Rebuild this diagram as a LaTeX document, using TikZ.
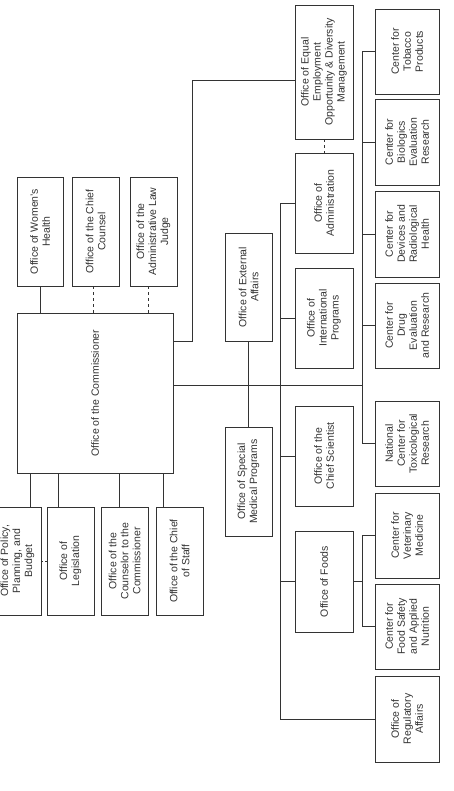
\documentclass[tikz,border=0pt]{standalone}
\usepackage{fontspec}
\setmainfont{Liberation Sans}
\usetikzlibrary{calc}
\tikzset{
  orgbox/.style={draw=black!80, line width=0.9pt, inner sep=0pt},
  lbl/.style={font=\fontsize{10.5}{12}\selectfont, align=center, text=black!80, inner sep=0pt},
  conn/.style={draw=black!80, line width=0.9pt},
  dashconn/.style={draw=black!80, line width=0.9pt, dash pattern=on 3pt off 3pt},
}
\newcommand\orgnode[6]{%
  \node[orgbox, minimum width={(#4)-(#2)}, minimum height={(#5)-(#3)}] (#1) at ({((#2)+(#4))/2},{((#3)+(#5))/2}) {};
  \node[lbl, rotate=90] (#1-t) at (#1.center) {#6};
}
\begin{document}
\begin{tikzpicture}[x=1pt,y=-1pt]
\useasboundingbox (0,0) rectangle (453,791);
\clip (0,0) rectangle (453,791);
% top row
\orgnode{wh}{17}{177}{63}{286}{Office of Women's\\Health}
\orgnode{cc}{72}{177}{119}{286}{Office of the Chief\\Counsel}
\orgnode{alj}{130}{177}{177}{286}{Office of the\\Administrative Law\\Judge}
% commissioner
\orgnode{com}{17}{313}{173}{473}{Office of the Commissioner}
% bottom row
\orgnode{pol}{-6}{507}{41}{615}{Office of Policy,\\Planning, and\\Budget}
\orgnode{leg}{47}{507}{94}{615}{Office of\\Legislation}
\orgnode{cou}{101}{507}{148}{615}{Office of the\\Counselor to the\\Commissioner}
\orgnode{cos}{156}{507}{203}{615}{Office of the Chief\\of Staff}
% middle column
\orgnode{ext}{225}{233}{272}{341}{Office of External\\Affairs}
\orgnode{smp}{225}{427}{272}{536}{Office of Special\\Medical Programs}
% offices column
\orgnode{eeo}{295}{5}{353}{139}{Office of Equal\\Employment\\Opportunity \& Diversity\\Management}
\orgnode{adm}{295}{153}{353}{253}{Office of\\Administration}
\orgnode{intl}{295}{268}{353}{368}{Office of\\International\\Programs}
\orgnode{csc}{295}{406}{353}{506}{Office of the\\Chief Scientist}
\orgnode{foods}{295}{531}{353}{632}{Office of Foods}
% centers column
\orgnode{tob}{375}{9}{439}{94}{Center for\\Tobacco\\Products}
\orgnode{bio}{375}{99}{439}{185}{Center for\\Biologics\\Evaluation\\Research}
\orgnode{dev}{375}{191}{439}{277}{Center for\\Devices and\\Radiological\\Health}
\orgnode{drug}{375}{283}{439}{368}{Center for\\Drug\\Evaluation\\and Research}
\orgnode{tox}{375}{401}{439}{486}{National\\Center for\\Toxicological\\Research}
\orgnode{vet}{375}{493}{439}{578}{Center for\\Veterinary\\Medicine}
\orgnode{fsn}{375}{584}{439}{669}{Center for\\Food Safety\\and Applied\\Nutrition}
\orgnode{reg}{375}{676}{439}{762}{Office of\\Regulatory\\Affairs}
% helper coordinates
\coordinate (k1) at (192,341);
\coordinate (k2) at (192,80);
\coordinate (h) at (362,385);
\coordinate (va) at (280,0);
\coordinate (vb) at (362,0);
\coordinate (xcc) at (93,0);
\coordinate (xalj) at (148,0);
% top connectors
\draw[conn] (wh.south) -- (wh.south |- com.north);
\draw[dashconn] (cc.south -| xcc) -- (com.north -| xcc);
\draw[dashconn] (alj.south -| xalj) -- (com.north -| xalj);
% bottom connectors
\foreach \n/\x in {pol/30, leg/58, cou/119, cos/163}{
  \coordinate (c\n) at (\x,0);
  \draw[conn] (com.south -| c\n) -- (\n.north -| c\n);
}
\draw[draw=black!80, line width=0.9pt, dash pattern=on 2pt off 2pt] (pol.east) -- (leg.west);
% commissioner to EEO
\draw[conn] (com.east |- k1) -- (k1) -- (k2) -- (eeo.west |- k2);
\draw[dashconn] (eeo.south) -- (adm.north);
% main horizontal bus
\draw[conn] (com.east |- h) -- (h);
% external affairs / special medical
\draw[conn] (ext.south) -- (smp.north);
% offices bus
\draw[conn] (adm.west) -- (adm.west -| va) -- (reg.west -| va) -- (reg.west);
\foreach \n in {intl, csc, foods}{
  \draw[conn] (\n.west) -- (\n.west -| va);
}
% centers bus
\draw[conn] (tob.west) -- (tob.west -| vb) -- (tox.west -| vb) -- (tox.west);
\foreach \n in {bio, dev, drug}{
  \draw[conn] (\n.west) -- (\n.west -| vb);
}
% foods bus
\draw[conn] (vet.west) -- (vet.west -| vb) -- (fsn.west -| vb) -- (fsn.west);
\draw[conn] (foods.east) -- (foods.east -| vb);
\end{tikzpicture}
\end{document}
